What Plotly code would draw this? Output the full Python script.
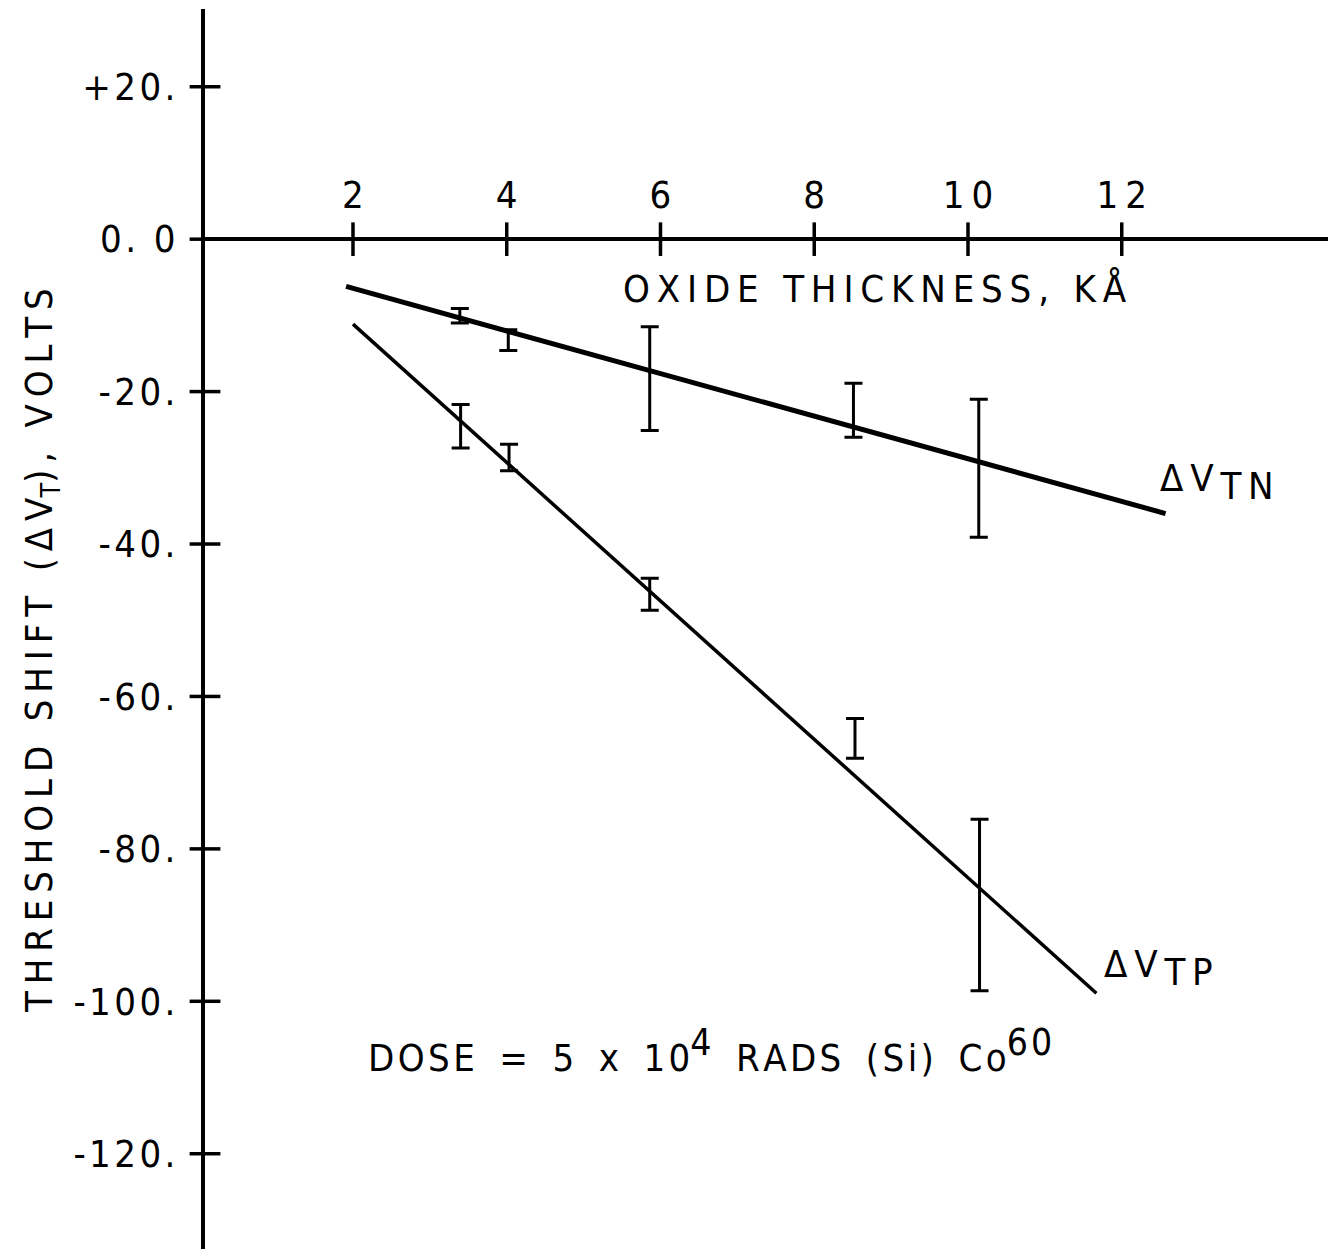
import plotly.graph_objects as go

# ---- data ----
x_ticks = [2, 4, 6, 8, 10, 12]
x_tick_labels = ["2", "4", "6", "8", "10", "12"]
y_ticks = [20, 0, -20, -40, -60, -80, -100, -120]
y_tick_labels = ["+20.", "0. 0", "-20.", "-40.", "-60.", "-80.", "-100.", "-120."]

# fitted lines
tn_fit_x = [1.91, 12.57]
tn_fit_y = [-6.2, -36.0]
tp_fit_x = [2.0, 11.67]
tp_fit_y = [-11.15, -98.95]

# error bars (low / high ends)
tn_x = [3.39, 4.02, 5.86, 8.51, 10.14]
tn_lo = [-11.0, -14.6, -25.1, -26.0, -39.1]
tn_hi = [-9.1, -11.9, -11.5, -18.9, -21.0]
tp_x = [3.40, 4.03, 5.86, 8.53, 10.15]
tp_lo = [-27.4, -30.4, -48.7, -68.1, -98.6]
tp_hi = [-21.7, -26.9, -44.5, -62.9, -76.1]

X_RANGE = [0.075, 14.80]
Y_RANGE = [-132.5, 30.2]

FONT = "DejaVu Sans Condensed, Liberation Sans Narrow, DejaVu Sans, sans-serif"
FS = 38
TS = "\u2009"  # thin space: wide letter spacing of the lettering
HS = "\u200a"  # hair space


def sp(s, gap=TS, word_gap=None):
    if word_gap is None:
        return gap.join(list(s))
    return word_gap.join(gap.join(list(w)) for w in s.split(" "))


WG = TS + " " + TS

fig = go.Figure()

# fitted lines
fig.add_trace(go.Scatter(x=tn_fit_x, y=tn_fit_y, mode="lines",
                         line=dict(color="black", width=5), showlegend=False))
fig.add_trace(go.Scatter(x=tp_fit_x, y=tp_fit_y, mode="lines",
                         line=dict(color="black", width=3.5), showlegend=False))


def bars(xs, lo, hi):
    mid = [(a + b) / 2 for a, b in zip(lo, hi)]
    half = [(b - a) / 2 for a, b in zip(lo, hi)]
    return go.Scatter(x=xs, y=mid, mode="markers",
                      marker=dict(size=1, color="rgba(0,0,0,0)"),
                      error_y=dict(type="data", array=half, symmetric=True,
                                   color="black", thickness=3, width=9),
                      showlegend=False)


fig.add_trace(bars(tn_x, tn_lo, tn_hi))
fig.add_trace(bars(tp_x, tp_lo, tp_hi))

# crossing tick marks
fig.add_trace(go.Scatter(x=x_ticks, y=[0] * len(x_ticks), mode="markers",
                         marker=dict(symbol="line-ns", size=24,
                                     line=dict(color="black", width=3.5)),
                         cliponaxis=False, showlegend=False))
fig.add_trace(go.Scatter(x=[X_RANGE[0]] * len(y_ticks), y=y_ticks, mode="markers",
                         marker=dict(symbol="line-ew", size=22,
                                     line=dict(color="black", width=3.5)),
                         cliponaxis=False, showlegend=False))

y0_pos = (0 - Y_RANGE[0]) / (Y_RANGE[1] - Y_RANGE[0])

fig.update_layout(
    width=1336, height=1258,
    margin=dict(l=197, r=7, t=1, b=17),
    paper_bgcolor="white", plot_bgcolor="white",
    font=dict(family=FONT, size=FS, color="black"),
    xaxis=dict(range=X_RANGE, showgrid=False, zeroline=False,
               anchor="free", position=y0_pos, side="top",
               showline=True, linecolor="black", linewidth=4,
               tickmode="array", tickvals=x_ticks,
               ticktext=[sp(t) for t in x_tick_labels],
               ticks="outside", ticklen=14, tickcolor="rgba(0,0,0,0)",
               tickfont=dict(family=FONT, size=FS)),
    yaxis=dict(range=Y_RANGE, showgrid=False, zeroline=False,
               showline=True, linecolor="black", linewidth=4,
               tickmode="array", tickvals=y_ticks,
               ticktext=[sp(t, HS) for t in y_tick_labels],
               ticks="outside", ticklen=18, tickcolor="rgba(0,0,0,0)",
               tickfont=dict(family=FONT, size=FS)),
)

SUB = "<sub><span style='font-size:38px'>{}</span></sub>"
SUP = "<sup><span style='font-size:37px'>{}</span></sup>"

fig.add_annotation(x=8.79, y=-6.6, xref="x", yref="y", showarrow=False,
                   text=sp("OXIDE THICKNESS, KÅ"), xanchor="center", yanchor="middle",
                   font=dict(family=FONT, size=FS))
fig.add_annotation(x=12.47, y=-28.2, xref="x", yref="y", showarrow=False,
                   text=sp("ΔV") + TS + SUB.format(sp("TN")),
                   xanchor="left", yanchor="top",
                   font=dict(family=FONT, size=FS))
fig.add_annotation(x=11.74, y=-91.9, xref="x", yref="y", showarrow=False,
                   text=sp("ΔV") + TS + SUB.format(sp("TP")),
                   xanchor="left", yanchor="top",
                   font=dict(family=FONT, size=FS))
fig.add_annotation(x=2.17, y=-106.5, xref="x", yref="y", showarrow=False,
                   text=sp("DOSE = 5 x 10", HS, WG) + SUP.format("4")
                        + WG + sp("RADS (Si) Co", HS, WG) + SUP.format(sp("60", HS)),
                   xanchor="left", yanchor="middle",
                   font=dict(family=FONT, size=FS))
fig.add_annotation(x=(40 - 204) / 1132, y=(1248 - 650) / 1240, xref="paper", yref="paper",
                   showarrow=False, textangle=-90,
                   text=sp("THRESHOLD SHIFT (ΔV") + "<sub>T</sub>" + sp("), VOLTS"),
                   xanchor="center", yanchor="middle",
                   font=dict(family=FONT, size=FS))

fig.write_html("out.html")
